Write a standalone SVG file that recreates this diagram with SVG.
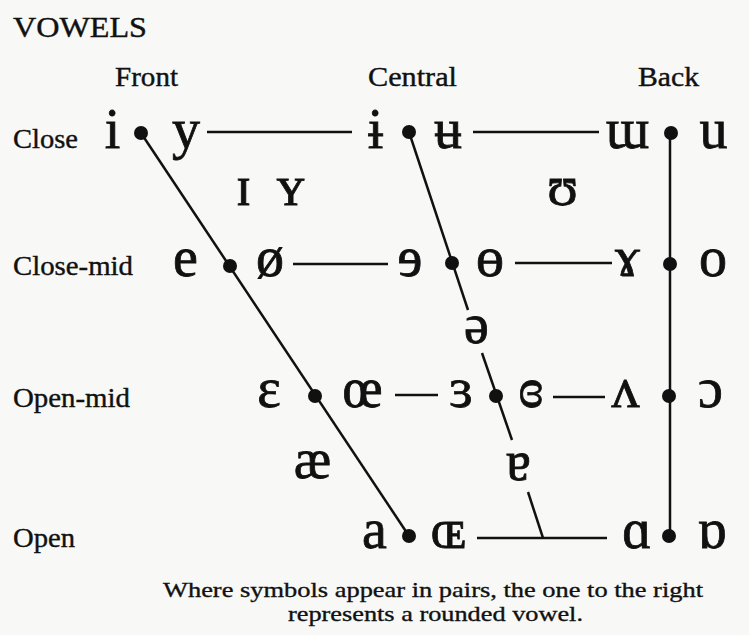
<svg xmlns="http://www.w3.org/2000/svg" width="749" height="635" viewBox="0 0 749 635">
<style>
.lbl{font-family:"Liberation Serif","DejaVu Serif",serif;font-size:28px;fill:#111;stroke:#111;stroke-width:0.4}
.sym{font-family:"Liberation Serif","DejaVu Serif",serif;font-size:56px;fill:#111;stroke:#111;stroke-width:0.8;text-anchor:middle}
.cap{font-family:"Liberation Serif","DejaVu Serif",serif;font-size:22px;fill:#111;stroke:#111;stroke-width:0.35}
.ln{stroke:#111;stroke-width:2.5;fill:none;stroke-linecap:butt}
.dot{fill:#111}
</style>
<rect width="749" height="635" fill="#f8f8f6"/>
<g id="title"><text class="lbl" x="13" y="37" textLength="134" lengthAdjust="spacingAndGlyphs" style="font-size:30px">VOWELS</text></g>
<g id="col-labels">
<text class="lbl" x="115" y="86" textLength="63" lengthAdjust="spacingAndGlyphs">Front</text>
<text class="lbl" x="368" y="86" textLength="89" lengthAdjust="spacingAndGlyphs">Central</text>
<text class="lbl" x="638" y="86" textLength="61" lengthAdjust="spacingAndGlyphs">Back</text>
</g>
<g id="row-labels">
<text class="lbl" x="13" y="148" textLength="65" lengthAdjust="spacingAndGlyphs">Close</text>
<text class="lbl" x="13" y="275" textLength="120" lengthAdjust="spacingAndGlyphs">Close-mid</text>
<text class="lbl" x="13" y="407" textLength="117" lengthAdjust="spacingAndGlyphs">Open-mid</text>
<text class="lbl" x="13" y="547" textLength="62" lengthAdjust="spacingAndGlyphs">Open</text>
</g>
<g id="connectors">
<line class="ln" x1="141" y1="133" x2="409" y2="536"/>
<line class="ln" x1="409" y1="132" x2="468" y2="310"/>
<line class="ln" x1="482" y1="353" x2="512" y2="440"/>
<line class="ln" x1="528" y1="492" x2="543" y2="538"/>
<line class="ln" x1="670" y1="133" x2="670" y2="536"/>
<line class="ln" x1="207" y1="132" x2="352" y2="132"/>
<line class="ln" x1="473" y1="132" x2="599" y2="132"/>
<line class="ln" x1="293" y1="264" x2="388" y2="264"/>
<line class="ln" x1="515" y1="263" x2="612" y2="263"/>
<line class="ln" x1="395" y1="395" x2="438" y2="395"/>
<line class="ln" x1="553" y1="397" x2="605" y2="397"/>
<line class="ln" x1="477" y1="538" x2="607" y2="538"/>
</g>
<g id="dots">
<circle class="dot" cx="141" cy="133" r="7"/>
<circle class="dot" cx="409" cy="132" r="7"/>
<circle class="dot" cx="671" cy="133" r="7"/>
<circle class="dot" cx="230" cy="266" r="7"/>
<circle class="dot" cx="452" cy="263" r="7"/>
<circle class="dot" cx="670" cy="264" r="7"/>
<circle class="dot" cx="315" cy="396" r="7"/>
<circle class="dot" cx="496" cy="396" r="7"/>
<circle class="dot" cx="669" cy="396" r="7"/>
<circle class="dot" cx="409" cy="536" r="7"/>
<circle class="dot" cx="669" cy="536" r="7"/>
</g>
<g id="close-row">
<text class="sym" x="112.5" y="148">i</text>
<text class="sym" x="186" y="148">y</text>
<text class="sym" x="375.5" y="148">ɨ</text>
<text class="sym" x="448" y="148">ʉ</text>
<text class="sym" x="627.5" y="148">ɯ</text>
<text class="sym" x="713.5" y="148">u</text>
</g>
<g id="near-close">
<text class="sym" x="243.5" y="205">ɪ</text>
<text class="sym" x="290.5" y="205">ʏ</text>
<text class="sym" x="562.5" y="205">ʊ</text>
</g>
<g id="close-mid-row">
<text class="sym" x="185.5" y="276">e</text>
<text class="sym" x="270" y="276">ø</text>
<text class="sym" x="410" y="276">ɘ</text>
<text class="sym" x="490" y="276">ɵ</text>
<text class="sym" x="627.5" y="276">ɤ</text>
<text class="sym" x="713" y="276">o</text>
</g>
<g id="mid">
<text class="sym" x="476.5" y="343">ə</text>
</g>
<g id="open-mid-row">
<text class="sym" x="269" y="407">ɛ</text>
<text class="sym" x="362.5" y="407">œ</text>
<text class="sym" x="461" y="407">ɜ</text>
<text class="sym" x="531" y="407">ɞ</text>
<text class="sym" x="625.5" y="407">ʌ</text>
<text class="sym" x="710.5" y="407">ɔ</text>
</g>
<g id="near-open">
<text class="sym" x="312.5" y="478">æ</text>
<text class="sym" x="518.5" y="480">ɐ</text>
</g>
<g id="open-row">
<text class="sym" x="374.5" y="548">a</text>
<text class="sym" x="448.5" y="548">ɶ</text>
<text class="sym" x="637" y="548">ɑ</text>
<text class="sym" x="712" y="548">ɒ</text>
</g>
<g id="caption">
<text class="cap" x="163" y="597" textLength="540" lengthAdjust="spacingAndGlyphs">Where symbols appear in pairs, the one to the right</text>
<text class="cap" x="288" y="621" textLength="295" lengthAdjust="spacingAndGlyphs">represents a rounded vowel.</text>
</g>
</svg>
